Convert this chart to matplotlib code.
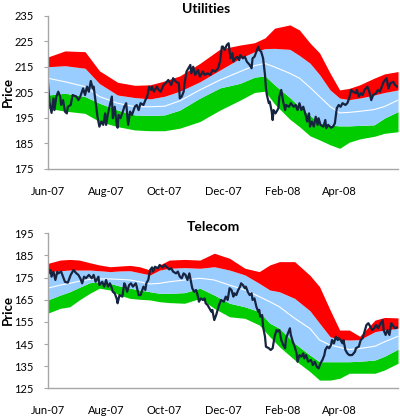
import numpy as np
import matplotlib
matplotlib.use("Agg")
import matplotlib.pyplot as plt

plt.rcParams['font.family'] = ['Lato', 'DejaVu Sans']

base = np.datetime64('2007-06-01')

# ---- Utilities ----
util_band_days = [0, 18, 39, 54, 73, 91, 107, 122, 138, 159, 180, 201, 216, 227, 237,
                  253, 263, 274, 284, 295, 305, 315, 326, 341, 352, 366]
util_outer_hi = [218.9, 221.3, 221.0, 213.5, 209.0, 207.8, 208.0, 209.5, 211.5, 216.4, 222.0,
                 223.6, 224.5, 226.4, 230.2, 231.5, 229.5, 224.4, 220.5, 212.6, 206.0, 206.6,
                 208.0, 210.6, 212.3, 213.2]
util_inner_hi = [215.1, 215.5, 214.5, 208.5, 204.0, 203.0, 202.5, 203.5, 205.5, 209.2, 213.8,
                 218.4, 221.0, 222.2, 222.3, 221.9, 219.5, 216.5, 212.0, 206.0, 202.8, 202.2,
                 202.8, 204.0, 205.0, 206.0]
util_mid = [210.6, 209.2, 207.3, 203.4, 200.8, 199.4, 199.4, 199.6, 201.7, 206.0, 209.9,
            213.2, 215.5, 216.4, 215.0, 212.5, 210.6, 207.0, 203.4, 199.5, 197.0, 197.2,
            197.6, 198.3, 199.5, 202.0]
util_inner_lo = [204.0, 204.7, 203.4, 200.8, 198.1, 196.2, 196.0, 196.2, 198.1, 202.8, 206.8,
                 208.6, 211.0, 211.5, 208.0, 203.0, 199.4, 196.0, 192.9, 192.2, 191.9, 191.9,
                 192.1, 192.3, 195.0, 197.5]
util_outer_lo = [198.8, 197.7, 196.8, 193.6, 191.6, 190.3, 190.0, 190.0, 191.0, 193.6, 198.1,
                 202.0, 205.0, 205.5, 200.5, 194.5, 191.6, 188.0, 186.4, 184.5, 183.1, 185.5,
                 186.8, 187.8, 189.0, 189.6]

util_days = [0, 2, 4, 6, 7, 9, 11, 13, 14, 16, 18, 20, 21, 24, 26, 30, 32, 34, 37, 39, 41, 43,
             45, 47, 48, 50, 52, 54, 56, 58, 60, 61, 63, 65, 67, 68, 70, 72, 73, 74, 76, 79, 80,
             82, 84, 86, 88, 91, 93, 95, 97, 100, 102, 104, 106, 108, 109, 111, 114, 116, 118,
             121, 123, 126, 129, 131, 134, 137, 138, 140, 142, 143, 145, 147, 149, 150, 152,
             154, 157, 159, 162, 164, 167, 170, 172, 175, 178, 180, 182, 183, 185, 187, 189,
             191, 193, 194, 196, 198, 200, 201, 204, 206, 208, 211, 213, 214, 216, 218, 220,
             221, 223, 225, 227, 228, 229, 231, 232, 234, 235, 236, 238, 241, 242, 244, 246,
             248, 249, 252, 254, 257, 259, 261, 263, 265, 267, 270, 271, 273, 274, 276, 278,
             280, 282, 283, 285, 288, 290, 291, 293, 296, 298, 300, 302, 304, 306, 308, 311,
             313, 315, 317, 319, 322, 323, 325, 327, 329, 331, 334, 336, 338, 340, 343, 345,
             347, 349, 351, 354, 356, 358, 361, 363, 365]
util_price = [209.9, 200.8, 197.0, 202.7, 198.1, 203.4, 205.3, 203.4, 200.1, 202.0, 197.5,
              196.8, 199.4, 200.1, 204.0, 203.4, 202.0, 203.4, 206.6, 204.0, 207.3, 205.3,
              209.5, 206.6, 207.3, 201.4, 195.5, 191.6, 193.6, 192.3, 196.8, 192.3, 196.8,
              200.1, 203.4, 194.9, 199.4, 192.3, 191.2, 196.2, 194.9, 198.1, 199.4, 200.8,
              192.3, 197.5, 196.2, 199.4, 200.1, 198.1, 200.8, 200.1, 202.0, 203.4, 207.3,
              206.0, 207.3, 205.3, 207.3, 206.0, 205.3, 207.9, 208.6, 209.9, 207.9, 210.6,
              209.2, 208.6, 202.7, 203.4, 205.3, 208.6, 213.2, 214.5, 215.8, 212.5, 215.1,
              211.9, 213.8, 211.2, 213.2, 211.9, 212.5, 211.9, 213.8, 213.2, 214.5, 217.1,
              223.0, 223.0, 221.7, 223.6, 224.3, 218.4, 220.4, 217.1, 218.4, 219.0, 217.7,
              219.7, 218.4, 219.0, 217.1, 215.8, 214.5, 218.4, 219.0, 221.0, 223.0, 221.7,
              221.0, 218.4, 211.9, 206.6, 204.0, 200.8, 201.4, 197.5, 194.2, 198.1, 196.8,
              198.8, 203.4, 206.0, 201.4, 198.1, 200.1, 199.4, 200.8, 199.4, 200.1, 198.1,
              200.8, 198.1, 199.4, 195.5, 193.6, 196.8, 191.6, 193.6, 191.6, 195.5, 192.3,
              194.9, 192.3, 191.6, 194.2, 191.0, 192.3, 191.2, 191.6, 192.9, 198.8, 200.1,
              199.4, 200.8, 200.1, 200.8, 202.7, 206.0, 205.3, 204.7, 206.0, 203.4, 204.7,
              204.0, 206.0, 207.3, 205.3, 202.0, 204.0, 204.7, 206.0, 205.3, 207.3, 209.2,
              210.6, 206.6, 208.6, 209.2, 207.9, 207.3]

# ---- Telecom ----
tel_band_days = [0, 13, 23, 33, 44, 54, 65, 75, 86, 96, 107, 117, 127, 143, 159, 174, 190,
                 206, 221, 232, 242, 258, 274, 284, 295, 305, 315, 326, 342, 352, 366]
tel_outer_hi = [181.4, 182.9, 183.2, 182.9, 181.7, 180.7, 179.9, 180.2, 180.5, 179.9, 178.4,
                180.7, 182.9, 183.2, 182.9, 186.0, 183.7, 179.2, 177.7, 180.7, 182.2, 182.2,
                176.0, 170.9, 160.4, 151.3, 151.3, 148.5, 155.8, 157.0, 156.8]
tel_inner_hi = [177.7, 178.1, 178.4, 178.4, 178.4, 178.1, 177.7, 178.0, 178.1, 177.2, 176.2,
                178.4, 179.2, 179.5, 179.2, 179.9, 178.4, 176.2, 172.4, 169.4, 168.6, 165.6,
                160.0, 154.4, 148.3, 147.0, 146.8, 147.0, 150.6, 151.3, 152.1]
tel_mid = [170.2, 171.6, 172.4, 173.4, 174.2, 174.4, 174.4, 174.2, 173.9, 173.1, 172.1,
           172.4, 173.1, 173.9, 174.7, 173.9, 171.6, 169.4, 166.4, 164.1, 161.8, 156.6, 152.0,
           146.8, 144.5, 143.5, 142.5, 143.0, 144.0, 146.0, 148.5]
tel_inner_lo = [164.9, 167.1, 168.6, 170.6, 172.7, 173.1, 172.4, 171.2, 170.2, 169.4, 168.6,
                167.9, 167.9, 168.2, 170.2, 167.1, 163.4, 161.8, 159.6, 154.4, 152.1, 145.3,
                140.0, 137.0, 137.0, 137.0, 137.0, 137.2, 137.8, 139.5, 142.7]
tel_outer_lo = [158.9, 161.1, 161.8, 164.9, 167.9, 170.2, 169.4, 167.1, 165.6, 165.2, 164.9,
                164.1, 163.7, 163.4, 165.6, 161.1, 157.3, 156.6, 153.6, 148.3, 143.8, 137.8,
                132.5, 128.7, 128.7, 129.5, 131.8, 131.8, 131.8, 133.3, 136.3]

tel_days = [0, 1, 3, 4, 6, 8, 10, 11, 14, 16, 18, 21, 24, 27, 30, 32, 34, 36, 38, 40, 43,
            46, 48, 50, 53, 54, 57, 59, 61, 63, 65, 67, 68, 70, 72, 73, 75, 78, 80, 81, 83, 85,
            87, 89, 92, 93, 95, 97, 100, 102, 103, 105, 107, 109, 110, 112, 115, 117, 120, 122,
            124, 127, 129, 131, 134, 136, 138, 140, 142, 144, 146, 148, 150, 151, 153, 155,
            157, 158, 160, 162, 164, 165, 167, 169, 171, 172, 174, 176, 178, 179, 181, 184,
            186, 188, 190, 192, 194, 195, 197, 199, 201, 202, 204, 206, 207, 209, 211, 213,
            214, 216, 218, 220, 221, 222, 224, 225, 227, 228, 231, 233, 235, 237, 239, 240,
            242, 244, 246, 248, 249, 251, 253, 254, 256, 258, 260, 261, 263, 265, 267, 268,
            270, 272, 275, 277, 279, 281, 283, 285, 287, 289, 290, 292, 294, 296, 297, 299,
            301, 303, 304, 306, 308, 309, 311, 313, 315, 318, 321, 322, 325, 327, 329, 331,
            333, 335, 337, 339, 341, 343, 345, 348, 350, 351, 353, 355, 357, 359, 361, 363, 365]
tel_price = [180.7, 176.9, 178.4, 175.4, 177.7, 173.9, 177.7, 176.9, 177.7, 175.4, 173.1,
             172.7, 176.2, 178.4, 176.9, 176.2, 174.7, 172.4, 175.4, 174.7, 176.2, 174.7,
             176.2, 173.1, 175.4, 171.6, 173.1, 170.9, 173.9, 170.9, 172.4, 170.2, 168.6,
             167.9, 165.6, 163.4, 167.1, 166.4, 172.4, 171.6, 168.6, 171.6, 172.4, 170.9,
             172.4, 170.9, 167.1, 167.1, 170.9, 169.4, 172.4, 173.9, 178.4, 179.6, 177.7,
             179.9, 179.2, 180.7, 179.6, 180.7, 179.9, 178.7, 179.2, 177.7, 176.9, 177.7,
             175.4, 174.7, 176.9, 176.2, 173.9, 176.9, 172.4, 170.2, 168.6, 169.4, 166.4,
             164.1, 165.6, 164.9, 165.6, 163.4, 162.6, 161.1, 159.6, 160.4, 155.8, 158.1,
             161.1, 162.6, 164.9, 164.1, 166.4, 164.9, 170.2, 169.4, 166.4, 167.9, 167.1,
             169.4, 170.9, 172.4, 171.6, 170.2, 170.9, 168.6, 167.1, 167.9, 164.9, 165.6,
             161.8, 159.6, 160.4, 157.3, 158.1, 152.8, 148.3, 143.8, 143.1, 142.3, 143.1,
             148.3, 151.3, 150.6, 151.3, 146.8, 144.6, 143.1, 147.6, 149.8, 152.1, 149.1,
             146.1, 143.8, 140.8, 137.0, 140.0, 139.3, 140.8, 138.5, 140.0, 137.0, 137.8,
             135.5, 137.0, 134.8, 134.0, 136.3, 137.8, 140.0, 142.3, 143.8, 143.1, 144.6,
             146.8, 145.3, 148.3, 146.8, 147.6, 146.8, 145.3, 146.8, 142.3, 140.8, 140.0,
             140.0, 141.5, 143.1, 143.8, 146.8, 147.6, 150.6, 153.6, 154.4, 152.8, 151.3,
             152.1, 153.6, 152.1, 154.4, 155.8, 151.3, 149.1, 151.3, 149.1, 154.4, 153.1,
             152.1, 152.5]

tick_dates = ['2007-06-01', '2007-08-01', '2007-10-01', '2007-12-01', '2008-02-01', '2008-04-01']
tick_labels = ['Jun-07', 'Aug-07', 'Oct-07', 'Dec-07', 'Feb-08', 'Apr-08']


def to_dates(days):
    return base + np.array(days).astype('timedelta64[D]')


def draw(ax, band_days, olo, ilo, mid, ihi, ohi, days, price, yticks):
    bx = to_dates(band_days)
    ax.fill_between(bx, olo, ilo, color='#00CC00', lw=0)
    ax.fill_between(bx, ilo, ihi, color='#99CCFF', lw=0)
    ax.fill_between(bx, ihi, ohi, color='#FF0000', lw=0)
    ax.plot(bx, mid, color='white', lw=0.8)
    ax.plot(to_dates(days), price, color='#17243F', lw=1.6)
    ax.set_xlim(base, base + np.timedelta64(366, 'D'))
    ax.set_ylim(yticks[0], yticks[-1])
    ax.set_yticks(yticks)
    ax.set_xticks(np.array(tick_dates, dtype='datetime64[D]'))
    ax.set_xticklabels(tick_labels)
    for s in ['top', 'right']:
        ax.spines[s].set_visible(False)
    for s in ['left', 'bottom']:
        ax.spines[s].set_color('#A6A6A6')
        ax.spines[s].set_linewidth(1.0)
    ax.tick_params(axis='y', length=3, color='#A6A6A6', labelsize=8, pad=7)
    ax.tick_params(axis='x', length=0, labelsize=8, pad=12)


fig = plt.figure(figsize=(4, 4.16), dpi=100)
ax1 = fig.add_axes([0.1193, 0.5938, 0.8758, 0.3678])
ax2 = fig.add_axes([0.1193, 0.0666, 0.8758, 0.3726])

draw(ax1, util_band_days, util_outer_lo, util_inner_lo, util_mid, util_inner_hi, util_outer_hi,
     util_days, util_price, [175, 185, 195, 205, 215, 225, 235])
draw(ax2, tel_band_days, tel_outer_lo, tel_inner_lo, tel_mid, tel_inner_hi, tel_outer_hi,
     tel_days, tel_price, [125, 135, 145, 155, 165, 175, 185, 195])

fig.text(206.5 / 400, 1 - 9 / 416, 'Utilities', ha='center', va='center', fontsize=10, fontweight='bold')
fig.text(213 / 400, 1 - 227 / 416, 'Telecom', ha='center', va='center', fontsize=10, fontweight='bold')
fig.text(8 / 400, 1 - 92 / 416, 'Price', ha='center', va='center', rotation=90, fontsize=9.5, fontweight='bold')
fig.text(8 / 400, 1 - 310 / 416, 'Price', ha='center', va='center', rotation=90, fontsize=9.5, fontweight='bold')

fig.savefig('out.png', dpi=100)
